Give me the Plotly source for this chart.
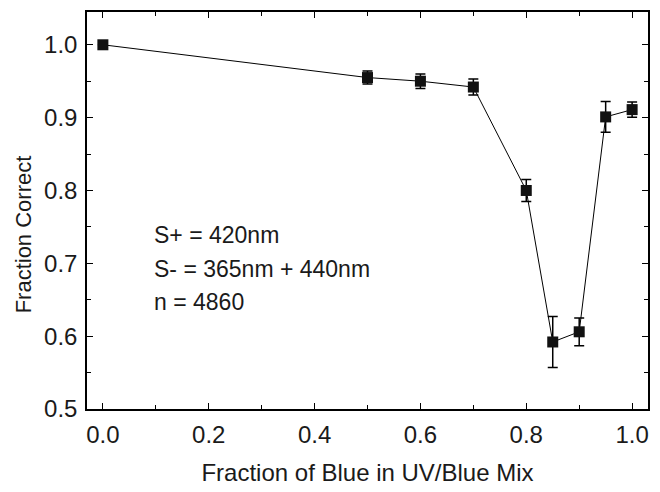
import plotly.graph_objects as go

blue_fraction = [0.0, 0.5, 0.6, 0.7, 0.8, 0.85, 0.9, 0.95, 1.0]
fraction_correct = [1.0, 0.955, 0.950, 0.942, 0.800, 0.592, 0.606, 0.901, 0.911]
error = [0.0, 0.009, 0.010, 0.011, 0.015, 0.035, 0.019, 0.021, 0.0105]

info_lines = ["S+ = 420nm", "S- = 365nm + 440nm", "n = 4860"]
x_title = "Fraction of Blue in UV/Blue Mix"
y_title = "Fraction Correct"

FONT = "Liberation Sans, Arial, Helvetica, sans-serif"
TXT = "#1a1a1a"

fig = go.Figure()
fig.add_trace(go.Scatter(
    x=blue_fraction, y=fraction_correct,
    mode="lines+markers",
    line=dict(color="black", width=1),
    marker=dict(symbol="square", size=11, color="#111111"),
    error_y=dict(type="data", array=error, visible=True, color="black",
                 thickness=1.5, width=5),
    showlegend=False,
))

line_y = [0.438, 0.353, 0.269]
for txt, yy in zip(info_lines, line_y):
    fig.add_annotation(text=txt, xref="paper", yref="paper", x=0.115, y=yy,
                       xanchor="left", yanchor="middle", showarrow=False,
                       font=dict(family=FONT, size=23, color=TXT))

# y-axis title (placed slightly below plot centre as in the reference)
fig.add_annotation(text=y_title, xref="paper", yref="paper", x=-0.114, y=0.44,
                   xanchor="center", yanchor="middle", textangle=-90,
                   showarrow=False, font=dict(family=FONT, size=22, color=TXT))

axis_common = dict(
    showline=True, linecolor="black", linewidth=1.5, mirror="allticks",
    ticks="inside", ticklen=6, tickwidth=1, tickcolor="black",
    showgrid=False, zeroline=False,
    tickfont=dict(family=FONT, size=24, color=TXT),
)

fig.update_xaxes(
    range=[-0.03, 1.03], tickmode="array",
    tickvals=[0.0, 0.2, 0.4, 0.6, 0.8, 1.0], tickformat=".1f",
    minor=dict(tickvals=[0.1, 0.3, 0.5, 0.7, 0.9], ticks="inside", ticklen=4,
               tickcolor="black", tickwidth=1, showgrid=False),
    ticklabelstandoff=3,
    title=dict(text=x_title, standoff=18,
               font=dict(family=FONT, size=24, color=TXT)),
    **axis_common,
)
fig.update_yaxes(
    range=[0.5, 1.045], tickmode="array",
    tickvals=[0.5, 0.6, 0.7, 0.8, 0.9, 1.0], tickformat=".1f",
    minor=dict(tickvals=[0.55, 0.65, 0.75, 0.85, 0.95], ticks="inside", ticklen=4,
               tickcolor="black", tickwidth=1, showgrid=False),
    ticklabelstandoff=3,
    **axis_common,
)

fig.update_layout(
    width=660, height=492,
    margin=dict(l=87, r=11, t=10, b=80),
    plot_bgcolor="white", paper_bgcolor="white",
)

fig.write_html("out.html")
